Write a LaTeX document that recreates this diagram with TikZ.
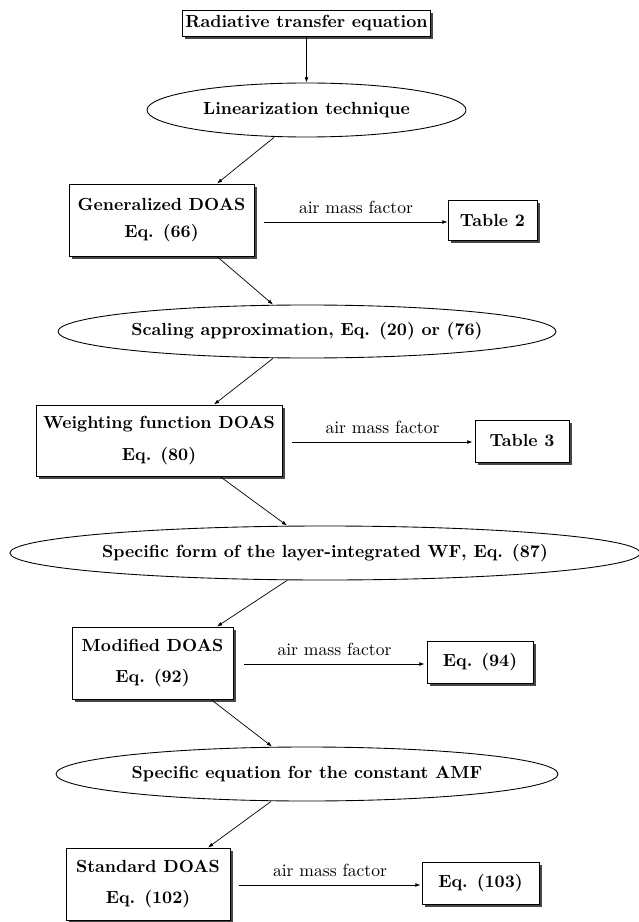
\documentclass[tikz,border=0pt]{standalone}
\usetikzlibrary{shapes.geometric,shadows,calc,arrows.meta}
\newcommand{\pxu}{0.57pt}
\begin{document}
\begin{tikzpicture}[x=0.57pt,y=-0.57pt,
  box/.style={draw,line width=0.55pt,fill=white,align=center,font=\bfseries,inner sep=0pt,
     drop shadow={shadow xshift=1.6pt,shadow yshift=-1.6pt,fill=black!72,opacity=1}},
  oval/.style={draw,ellipse,line width=0.5pt,inner sep=0pt,font=\bfseries,fill=white},
  arr/.style={-{Latex[length=3pt,width=2.2pt]},line width=0.4pt},
  lab/.style={above=1pt,font=\normalfont}]
\useasboundingbox (0,0) rectangle (639,922);

\node[box,minimum width=248*\pxu,minimum height=26*\pxu] (rte) at (306.5,23) {Radiative transfer equation};
\node[oval,minimum width=319*\pxu,minimum height=54*\pxu] (lin) at (306.5,110) {Linearization technique};
\node[box,minimum width=185*\pxu,minimum height=72*\pxu] (gen) at (161.5,220) {Generalized DOAS\\[3pt]Eq. (66)};
\node[box,minimum width=89*\pxu,minimum height=40*\pxu] (tab2) at (492.5,220) {Table 2};
\node[oval,minimum width=498*\pxu,minimum height=53*\pxu] (sca) at (307,331.5) {Scaling approximation, Eq. (20) or (76)};
\node[box,minimum width=246*\pxu,minimum height=71*\pxu] (wf) at (159,440.5) {Weighting function DOAS\\[6pt]Eq. (80)};
\node[box,minimum width=94*\pxu,minimum height=42*\pxu] (tab3) at (522,441) {Table 3};
\node[oval,minimum width=624*\pxu,minimum height=54*\pxu] (spec) at (325,553) {Specific form of the layer-integrated WF, Eq. (87)};
\node[box,minimum width=161*\pxu,minimum height=72*\pxu] (mod) at (152.5,663) {Modified DOAS\\[6pt]Eq. (92)};
\node[box,minimum width=106*\pxu,minimum height=42*\pxu] (eq94) at (480,662) {Eq. (94)};
\node[oval,minimum width=502*\pxu,minimum height=54*\pxu] (amf) at (307,774) {Specific equation for the constant AMF};
\node[box,minimum width=164*\pxu,minimum height=72*\pxu] (std) at (148,884) {Standard DOAS\\[6pt]Eq. (102)};
\node[box,minimum width=117*\pxu,minimum height=42*\pxu] (eq103) at (480.5,883) {Eq. (103)};

% vertical flow
\draw[arr] (rte.south) -- (lin.north);
\draw[arr] ($(lin.south)+(-32.5,0)$) -- ($(gen.north)+(55.5,0)$);
\draw[arr] ($(gen.south)+(55.5,0)$) -- ($(sca.north)+(-34,0)$);
\draw[arr] ($(sca.south)+(-34,0)$) -- ($(wf.north)+(55,0)$);
\draw[arr] ($(wf.south)+(61,0)$) -- ($(spec.north)+(-38,0)$);
\draw[arr] ($(spec.south)+(-38,0)$) -- ($(mod.north)+(64.5,0)$);
\draw[arr] ($(mod.south)+(58.5,0)$) -- ($(amf.north)+(-35,0)$);
\draw[arr] ($(amf.south)+(-36,0)$) -- ($(std.north)+(60,0)$);

% air mass factor arrows
\draw[arr] ($(gen.east)+(10,2)$) -- ($(tab2.west)+(0,2)$) node[midway,lab]{air mass factor};
\draw[arr] ($(wf.east)+(10,1.5)$) -- ($(tab3.west)+(-2,1)$) node[midway,lab]{air mass factor};
\draw[arr] ($(mod.east)+(11,1)$) -- ($(eq94.west)+(-2,2)$) node[midway,lab]{air mass factor};
\draw[arr] ($(std.east)+(9,1)$) -- ($(eq103.west)+(-1,2)$) node[midway,lab]{air mass factor};
\end{tikzpicture}
\end{document}
